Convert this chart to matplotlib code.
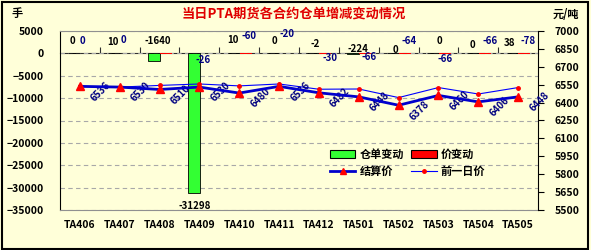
import numpy as np
import matplotlib
matplotlib.use("Agg")
import matplotlib.pyplot as plt
from matplotlib.patches import Rectangle
from matplotlib.lines import Line2D

plt.rcParams["font.family"] = ["Noto Sans CJK SC", "DejaVu Sans"]
plt.rcParams["font.weight"] = "bold"

# 数据
contracts = ["TA406", "TA407", "TA408", "TA409", "TA410", "TA411",
             "TA412", "TA501", "TA502", "TA503", "TA504", "TA505"]
warehouse_change = [0, 10, -1640, -31298, 10, 0, -2, -224, 0, 0, 0, 38]
price_change = [0, 0, -34, -26, -60, -20, -30, -66, -64, -66, -66, -78]
settle_price = [6536, 6530, 6510, 6530, 6480, 6536, 6482, 6448, 6378, 6460, 6406, 6448]
prev_price = [6536, 6530, 6544, 6556, 6540, 6556, 6512, 6514, 6442, 6526, 6472, 6526]
show_price_label = [True, True, False, True, True, True, True, True, True, True, True, True]

# 标签偏移（像素）
wh_offsets = [(-7, 12), (-7, 11), (-2, 12), (-5, -13), (-6, 13), (-5, 12),
              (-4, 9), (-1, 4), (-3, 3), (1, 12), (-6, 8), (-8, 10)]
pc_offsets = [(3, 12), (4, 13), (6, 12), (4, -7), (10, 17), (8, 19),
              (11, -5), (10, -4), (10, 12), (7, -6), (12, 12), (10, 12)]

BG = "#FFFFD9"
NAVY = "#000080"

fig = plt.figure(figsize=(5.91, 2.5), dpi=100, facecolor=BG)
ax1 = fig.add_axes([60 / 591, 1 - 210 / 250, 478 / 591, 179 / 250])
ax1.set_facecolor(BG)
ax2 = ax1.twinx()

x = np.arange(len(contracts))
w = 0.3
ax1.bar(x - 0.14, warehouse_change, w, color="#33FF33", edgecolor="black",
        linewidth=0.6, zorder=2)
ax1.bar(x + 0.16, price_change, w, color="#FF0000", linewidth=0, zorder=2)

ax1.set_xlim(-0.5, len(contracts) - 0.5)
ax1.set_ylim(-35000, 5000)
ax1.set_yticks(np.arange(-35000, 5001, 5000))
ax1.set_xticks(x)
ax1.set_xticklabels(contracts)
ax1.tick_params(axis="x", length=0, pad=7, labelsize=7.5)
ax1.tick_params(axis="y", length=0, pad=12, labelsize=7.5)
ax1.yaxis.grid(True, color="#A8A8A8", linestyle=(0, (4, 3)), linewidth=0.8)
ax1.set_axisbelow(True)
for s in ["top", "bottom"]:
    ax1.spines[s].set_color("#909090")
ax1.spines["left"].set_color("black")
ax1.spines["right"].set_visible(False)

# 零轴及分隔刻度
ymin, ymax = ax1.get_ylim()
zax = ax1.secondary_xaxis((0 - ymin) / (ymax - ymin))
zax.set_xticks(np.arange(0.5, len(contracts) - 1, 1.0))
zax.set_xticklabels([])
zax.tick_params(direction="out", length=4, color="#303030", width=0.8)
zax.spines["bottom"].set_color("#303030")
zax.spines["top"].set_color("#303030")

for i, v in enumerate(warehouse_change):
    y0 = v if v < -5000 else 0
    ax1.annotate(str(v), (x[i], y0), xytext=wh_offsets[i], textcoords="offset pixels",
                 ha="center", va="center", fontsize=7, color="black")
    if show_price_label[i]:
        ax1.annotate(str(price_change[i]), (x[i], 0), xytext=pc_offsets[i],
                     textcoords="offset pixels", ha="center", va="center",
                     fontsize=7, color=NAVY)

# 价格线
ax2.plot(x, prev_price, color="#0000FF", linewidth=0.8, marker="o", markersize=2.5,
         markerfacecolor="red", markeredgecolor="red", zorder=3)
ax2.plot(x, settle_price, color="#0000CC", linewidth=2.0, marker="^", markersize=6,
         markerfacecolor="red", markeredgecolor="red", zorder=4)
for i, v in enumerate(settle_price):
    ax2.annotate(str(v), (x[i], v), xytext=(21, -5), textcoords="offset pixels",
                 ha="center", va="center", rotation=45, fontsize=7, color=NAVY)

ax2.set_ylim(5500, 7000)
ax2.set_yticks(np.arange(5500, 7001, 150))
ax2.tick_params(axis="y", length=4, pad=8, labelsize=7.5, direction="out")
for s in ["top", "bottom", "left"]:
    ax2.spines[s].set_visible(False)
ax2.spines["right"].set_color("black")

handles = [
    Rectangle((0, 0), 1, 1, facecolor="#33FF33", edgecolor="black", linewidth=0.8),
    Line2D([], [], color="#0000CC", linewidth=2.0, marker="^", markersize=5,
           markerfacecolor="red", markeredgecolor="red"),
    Rectangle((0, 0), 1, 1, facecolor="#FF0000", edgecolor="black", linewidth=0.8),
    Line2D([], [], color="#0000FF", linewidth=0.8, marker="o", markersize=2.5,
           markerfacecolor="red", markeredgecolor="red"),
]
labels = ["仓单变动", "结算价", "价变动", "前一日价"]
ax2.legend(handles, labels, ncol=2, loc="upper left", frameon=False,
           bbox_to_anchor=(322 / 591, 1 - 140 / 250), bbox_transform=fig.transFigure,
           fontsize=8, handlelength=2.3, handleheight=0.8, handletextpad=0.4,
           columnspacing=0.6, labelspacing=0.35, borderpad=0.2)

fig.text(294 / 591, 1 - 14 / 250, "当日PTA期货各合约仓单增减变动情况", ha="center",
         va="center", fontsize=9.5, color="#E00000", fontweight="bold")
fig.text(17 / 591, 1 - 14 / 250, "手", ha="center", va="center", fontsize=8)
fig.text(566 / 591, 1 - 15 / 250, "元/吨", ha="center", va="center", fontsize=8)

fig.patches.append(Rectangle((0.003, 0.006), 0.992, 0.988, transform=fig.transFigure,
                             fill=False, edgecolor="black", linewidth=1.5))

fig.savefig("out.png", dpi=100, facecolor=BG)
